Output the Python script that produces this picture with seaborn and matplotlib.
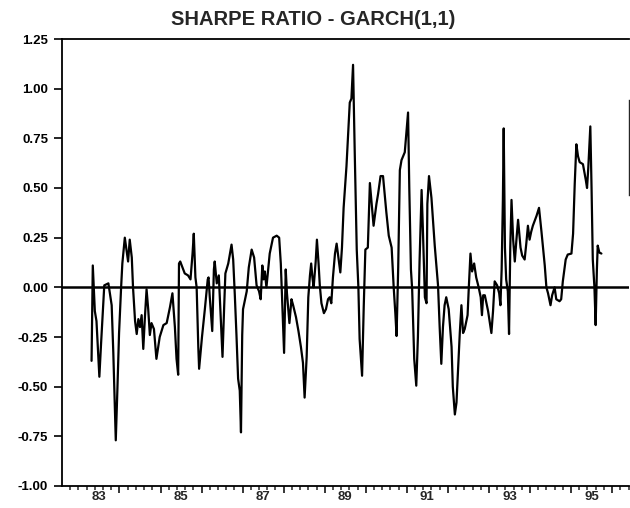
import numpy as np
import pandas as pd
import matplotlib
matplotlib.use("Agg")
import matplotlib.pyplot as plt
import seaborn as sns

# ---- data (decimal year, Sharpe ratio) ----
years = [
    82.82, 82.85, 82.90, 82.94, 83.01, 83.05, 83.13, 83.23, 83.31, 83.35,
    83.41, 83.45, 83.49, 83.54, 83.57, 83.63, 83.67, 83.71, 83.75, 83.80,
    83.83, 83.88, 83.92, 83.96, 84.00, 84.04, 84.08, 84.12, 84.16, 84.20,
    84.24, 84.28, 84.34, 84.40, 84.48, 84.57, 84.65, 84.73, 84.79, 84.85,
    84.89, 84.93, 84.95, 84.98, 85.09, 85.17, 85.23, 85.28, 85.31, 85.35,
    85.38, 85.42, 85.44, 85.51, 85.58, 85.65, 85.67, 85.70, 85.76, 85.80,
    85.82, 85.87, 85.92, 85.96, 86.01, 86.05, 86.08, 86.15, 86.23, 86.27,
    86.31, 86.35, 86.39, 86.43, 86.46, 86.49, 86.51, 86.60, 86.65, 86.72,
    86.78, 86.84, 86.90, 86.94, 86.98, 87.01, 87.04, 87.08, 87.16, 87.24,
    87.33, 87.39, 87.43, 87.47, 87.51, 87.55, 87.58, 87.64, 87.69, 87.73,
    87.80, 87.86, 87.92, 87.97, 88.01, 88.06, 88.10, 88.14, 88.17, 88.20,
    88.23, 88.28, 88.31, 88.35, 88.38, 88.42, 88.48, 88.53, 88.58, 88.62,
    88.66, 88.70, 88.75, 88.79, 88.84, 88.88, 88.92, 88.96, 89.03, 89.11,
    89.15, 89.19, 89.23, 89.28, 89.32, 89.35, 89.41, 89.45, 89.49, 89.55,
    89.60, 89.64, 89.69, 89.76, 89.80, 89.86, 89.92, 90.00, 90.06, 90.13,
    90.18, 90.22, 90.25, 90.29, 90.33, 90.37, 90.45, 90.49, 90.53, 90.56,
    90.60, 90.63, 90.68, 90.73, 90.77, 90.81, 90.86, 90.89, 90.94, 90.98,
    91.00, 91.04, 91.10, 91.18, 91.26, 91.30, 91.34, 91.38, 91.42, 91.46,
    91.52, 91.59, 91.62, 91.67, 91.71, 91.75, 91.79, 91.83, 91.87, 91.91,
    91.98, 92.01, 92.05, 92.09, 92.14, 92.19, 92.25, 92.30, 92.33, 92.36,
    92.40, 92.48, 92.56, 92.60, 92.64, 92.70, 92.75, 92.78, 92.81, 92.84,
    92.86, 92.89, 92.92, 92.96, 92.99, 93.02, 93.05, 93.09, 93.13, 93.17,
    93.21, 93.27, 93.31, 93.37, 93.41, 93.45, 93.49, 93.53, 93.57, 93.66,
    93.72, 93.78, 93.86, 93.90, 93.94, 94.00, 94.04, 94.10, 94.14, 94.22,
    94.26, 94.30, 94.37, 94.42, 94.51, 94.55, 94.59, 94.63, 94.67, 94.71,
    94.79, 94.86, 94.89, 94.92, 94.97, 95.00, 95.03, 95.07, 95.10, 95.13,
    95.15, 95.19, 95.24,
]
sharpe = [
    -0.37, 0.11, -0.12, -0.17, -0.45, -0.29, 0.01, 0.02, -0.09, -0.33,
    -0.77, -0.51, -0.23, 0.00, 0.12, 0.25, 0.19, 0.13, 0.24, 0.15,
    0.00, -0.17, -0.235, -0.16, -0.20, -0.14, -0.31, -0.15, -0.01, -0.11,
    -0.24, -0.18, -0.21, -0.36, -0.25, -0.19, -0.18, -0.10, -0.03, -0.20,
    -0.36, -0.44, 0.12, 0.13, 0.07, 0.06, 0.04, 0.17, 0.27, 0.05,
    0.00, -0.30, -0.41, -0.25, -0.11, 0.04, 0.05, -0.05, -0.22, 0.09,
    0.13, 0.02, 0.06, -0.12, -0.35, -0.10, 0.07, 0.12, 0.215, 0.14,
    -0.04, -0.24, -0.46, -0.52, -0.73, -0.24, -0.11, -0.02, 0.10, 0.19,
    0.15, 0.01, -0.02, -0.06, 0.11, 0.04, 0.08, 0.00, 0.17, 0.25,
    0.26, 0.25, 0.12, -0.11, -0.33, 0.09, -0.03, -0.18, -0.06, -0.09,
    -0.15, -0.22, -0.30, -0.38, -0.555, -0.35, -0.05, 0.06, 0.12, 0.05,
    0.00, 0.13, 0.24, 0.12, 0.01, -0.08, -0.13, -0.11, -0.06, -0.05,
    -0.08, 0.05, 0.17, 0.22, 0.14, 0.075, 0.20, 0.40, 0.61, 0.93,
    0.95, 1.12, 0.69, 0.19, 0.00, -0.26, -0.445, -0.10, 0.19, 0.20,
    0.525, 0.43, 0.31, 0.42, 0.47, 0.56, 0.56, 0.38, 0.26, 0.20,
    0.00, -0.13, -0.245, 0.10, 0.59, 0.64, 0.68, 0.78, 0.88, 0.50,
    0.09, -0.01, -0.36, -0.495, -0.25, 0.13, 0.49, 0.30, -0.05, -0.08,
    0.42, 0.56, 0.45, 0.21, 0.01, -0.20, -0.385, -0.20, -0.09, -0.05,
    -0.11, -0.30, -0.50, -0.64, -0.58, -0.40, -0.23, -0.09, -0.23, -0.21,
    -0.14, 0.00, 0.17, 0.08, 0.12, 0.05, 0.00, -0.05, -0.14, -0.04,
    -0.04, -0.12, -0.23, -0.12, 0.03, 0.01, -0.03, -0.09, 0.09, 0.44,
    0.80, 0.20, 0.04, -0.02, -0.235, 0.20, 0.44, 0.24, 0.13, 0.24,
    0.34, 0.20, 0.16, 0.14, 0.22, 0.31, 0.24, 0.28, 0.31, 0.36,
    0.40, 0.28, 0.11, 0.00, -0.03, -0.09, -0.04, 0.00, -0.06, -0.07,
    -0.06, 0.03, 0.14, 0.165, 0.17, 0.27, 0.52, 0.72, 0.66, 0.63,
    0.62, 0.54, 0.50, 0.60, 0.81, 0.50, 0.14, 0.00, -0.19, 0.09,
    0.21, 0.175, 0.17,
]

title_text = "SHARPE RATIO - GARCH(1,1)"
x_label_years = [83, 85, 87, 89, 91, 93, 95]
x_tick_labels = ["83", "85", "87", "89", "91", "93", "95"]
y_ticks = [-1.00, -0.75, -0.50, -0.25, 0.00, 0.25, 0.50, 0.75, 1.00, 1.25]

df = pd.DataFrame({"year": years, "sharpe": sharpe})

sns.set_style("ticks")
plt.rcParams["font.family"] = ["Liberation Sans", "DejaVu Sans"]

fig = plt.figure(figsize=(6.30, 5.08), dpi=100)
ax = fig.add_axes([62 / 630, 22 / 508, 566.5 / 630, 447 / 508])

sns.lineplot(data=df, x="year", y="sharpe", ax=ax, color="black",
             linewidth=1.6, estimator=None, sort=False)
ax.axhline(0, color="black", linewidth=1.8, zorder=1)

ax.set_xlim(82.10, 95.89)
ax.set_ylim(-1.00, 1.25)

# y axis
ax.set_yticks(y_ticks)
ax.set_yticklabels([f"{v:.2f}" for v in y_ticks])
ax.tick_params(axis="y", direction="out", length=6, width=1.2, pad=4,
               labelsize=9.5, colors="black")
for lab in ax.get_yticklabels():
    lab.set_fontweight("bold")

# x axis: long ticks at year boundaries, small ticks in between
ax.set_xticks(np.arange(83.5, 95.9, 1.0))
ax.set_xticklabels([])
ax.set_xticks(np.arange(82.3, 95.9, 0.2), minor=True)
ax.tick_params(axis="x", which="major", direction="out", length=5, width=1.3)
ax.tick_params(axis="x", which="minor", direction="out", length=3, width=1.1)

sec = ax.secondary_xaxis("bottom")
sec.set_xticks(x_label_years)
sec.set_xticklabels(x_tick_labels)
sec.tick_params(length=0, pad=3.5, labelsize=9.5)
for lab in sec.get_xticklabels():
    lab.set_fontweight("bold")
sec.spines["bottom"].set_visible(False)

ax.set_xlabel("")
ax.set_ylabel("")

for side in ["left", "top", "bottom"]:
    ax.spines[side].set_linewidth(1.3)
    ax.spines[side].set_color("black")
ax.spines["right"].set_linewidth(1.0)
ax.spines["right"].set_bounds(0.466, 0.943)

fig.text(0.497, 0.961, title_text, ha="center", va="center",
         fontsize=14.5, fontweight="bold")

fig.savefig("out.png", dpi=100, facecolor="white")
